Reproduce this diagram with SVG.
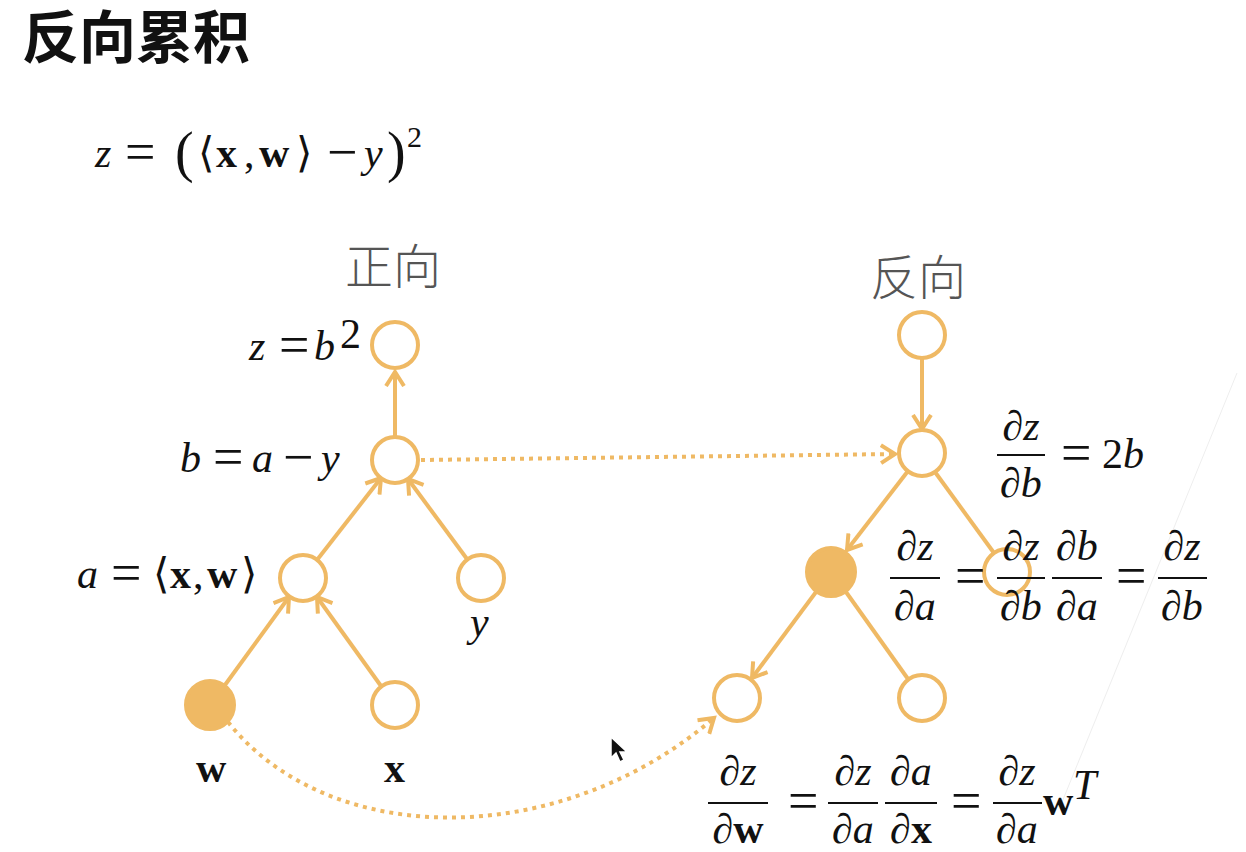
<svg xmlns="http://www.w3.org/2000/svg" width="1246" height="852" viewBox="0 0 1246 852">
<defs>
<style>
.n{fill:#fff;stroke:#EFB964;stroke-width:4}
.f{fill:#EFB964;stroke:#EFB964;stroke-width:4}
.e{stroke:#EFB964;stroke-width:4;fill:none}
.d{stroke:#EFB964;stroke-width:4;fill:none;stroke-dasharray:4 5}
.m{font-family:"Liberation Serif","DejaVu Serif",serif;font-size:42px;fill:#111}
.i{font-style:italic}
.b{font-weight:bold}
.q{font-size:54px}
.bar{stroke:#111;stroke-width:2}
.cj{font-family:"Noto Sans CJK SC",sans-serif}
</style>
<marker id="ah" markerUnits="userSpaceOnUse" markerWidth="30" markerHeight="30" refX="15" refY="15" orient="auto">
<path d="M1,6 L15,15 L1,24" fill="none" stroke="#EFB964" stroke-width="4"/>
</marker>
</defs>
<rect width="1246" height="852" fill="#fff"/>
<line x1="1237" y1="373" x2="1060" y2="807" stroke="#eeeeee" stroke-width="1"/>

<text x="22" y="58" class="cj" font-size="57" font-weight="bold" fill="#111">反向累积</text>

<g id="formula" class="m">
<text x="95" y="167" class="i">z</text>
<text x="125" y="170" class="q">=</text>
<text x="175" y="171" font-size="56">(</text>
<text x="198" y="167">⟨</text>
<text x="216" y="167" class="b">x</text>
<text x="244" y="167">,</text>
<text x="259" y="167" class="b">w</text>
<text x="296" y="167">⟩</text>
<text x="327" y="170" class="q">−</text>
<text x="364" y="167" class="i">y</text>
<text x="387" y="171" font-size="56">)</text>
<text x="407" y="147" font-size="30">2</text>
</g>

<text x="345" y="284" class="cj" font-size="48" font-weight="300" fill="#555">正向</text>
<text x="870" y="295" class="cj" font-size="48" font-weight="300" fill="#555">反向</text>

<g id="connectors">
<line class="e" x1="395" y1="437" x2="395" y2="372" marker-end="url(#ah)"/>
<line class="e" x1="317" y1="560" x2="381" y2="478" marker-end="url(#ah)"/>
<line class="e" x1="467" y1="559" x2="408" y2="479" marker-end="url(#ah)"/>
<line class="e" x1="225" y1="685" x2="289" y2="597" marker-end="url(#ah)"/>
<line class="e" x1="381" y1="686" x2="317" y2="597" marker-end="url(#ah)"/>
<line class="d" x1="421" y1="460" x2="895" y2="454" marker-end="url(#ah)"/>
<path class="d" d="M228,722 C330,850 560,850 714,718" marker-end="url(#ah)"/>
<line class="e" x1="922" y1="358" x2="922" y2="429" marker-end="url(#ah)"/>
<line class="e" x1="908" y1="471" x2="847" y2="550" marker-end="url(#ah)"/>
<line class="e" x1="935" y1="472" x2="994" y2="553"/>
<line class="e" x1="816" y1="592" x2="752" y2="678" marker-end="url(#ah)"/>
<line class="e" x1="846" y1="592" x2="908" y2="679"/>
</g>

<g id="fz"><circle class="n" cx="395" cy="345" r="23"/>
<text class="m i" x="249" y="360">z</text>
<text class="m q" x="279" y="363">=</text>
<text class="m i" x="314" y="360">b</text>
<text class="m" x="340" y="348" font-size="30">2</text></g>
<g id="fb"><circle class="n" cx="395" cy="460" r="23"/>
<text class="m i" x="180" y="472">b</text>
<text class="m q" x="213" y="475">=</text>
<text class="m i" x="252" y="472">a</text>
<text class="m q" x="283" y="475">−</text>
<text class="m i" x="321" y="472">y</text></g>
<g id="fa"><circle class="n" cx="303" cy="578" r="23"/>
<text class="m i" x="77" y="588">a</text>
<text class="m q" x="111" y="591">=</text>
<text class="m" y="588"><tspan x="153">⟨</tspan><tspan x="170" class="b">x</tspan><tspan x="193">,</tspan><tspan x="207" class="b">w</tspan><tspan x="241">⟩</tspan></text></g>
<g id="fy"><circle class="n" cx="481" cy="578" r="23"/>
<text class="m i" x="470" y="636">y</text></g>
<g id="fw"><circle class="f" cx="210" cy="705" r="24"/>
<text class="m b" x="196" y="782">w</text></g>
<g id="fx"><circle class="n" cx="395" cy="705" r="23"/>
<text class="m b" x="384" y="782">x</text></g>

<g id="rz"><circle class="n" cx="922" cy="335" r="23"/></g>
<g id="rb"><circle class="n" cx="922" cy="453" r="23"/>
<g class="m i" text-anchor="middle"><text x="1021" y="440">∂z</text><text x="1021" y="497">∂b</text></g>
<line class="bar" x1="997" y1="455" x2="1045" y2="455"/>
<text class="m q" x="1061" y="471">=</text>
<text class="m" y="468"><tspan x="1102">2</tspan><tspan class="i">b</tspan></text></g>
<g id="ra"><circle class="f" cx="831" cy="572" r="24"/></g>
<g id="ry"><circle class="n" cx="1007" cy="572" r="23" style="fill:none"/></g>
<g id="rw"><circle class="n" cx="737" cy="698" r="23"/></g>
<g id="rx"><circle class="n" cx="922" cy="698" r="23"/></g>

<g id="eq2">
<g class="m i" text-anchor="middle">
<text x="915" y="560">∂z</text><text x="915" y="620">∂a</text>
<text x="1021" y="560">∂z</text><text x="1021" y="620">∂b</text>
<text x="1077" y="560">∂b</text><text x="1077" y="620">∂a</text>
<text x="1182" y="560">∂z</text><text x="1182" y="620">∂b</text>
</g>
<line class="bar" x1="890" y1="578" x2="940" y2="578"/>
<line class="bar" x1="997" y1="578" x2="1045" y2="578"/>
<line class="bar" x1="1052" y1="578" x2="1102" y2="578"/>
<line class="bar" x1="1158" y1="578" x2="1207" y2="578"/>
<text class="m q" x="955" y="594">=</text>
<text class="m q" x="1116" y="594">=</text>
</g>

<g id="eq3">
<g class="m i" text-anchor="middle">
<text x="738" y="785">∂z</text><text x="738" y="843">∂<tspan class="b" font-style="normal">w</tspan></text>
<text x="853" y="785">∂z</text><text x="853" y="843">∂a</text>
<text x="911" y="785">∂a</text><text x="911" y="843">∂<tspan class="b" font-style="normal">x</tspan></text>
<text x="1017" y="785">∂z</text><text x="1017" y="843">∂a</text>
</g>
<line class="bar" x1="708" y1="803" x2="768" y2="803"/>
<line class="bar" x1="828" y1="803" x2="878" y2="803"/>
<line class="bar" x1="885" y1="803" x2="937" y2="803"/>
<line class="bar" x1="993" y1="803" x2="1042" y2="803"/>
<text class="m q" x="788" y="819">=</text>
<text class="m q" x="951" y="819">=</text>
<text class="m b" x="1043" y="815">w</text>
<text class="m i" x="1073" y="799" font-size="27">T</text>
</g>

<path d="M611,737 L611,758 L616,753 L620,762 L624,760 L620,752 L627,752 Z" fill="#111" stroke="#fff" stroke-width="1.5"/>
</svg>
